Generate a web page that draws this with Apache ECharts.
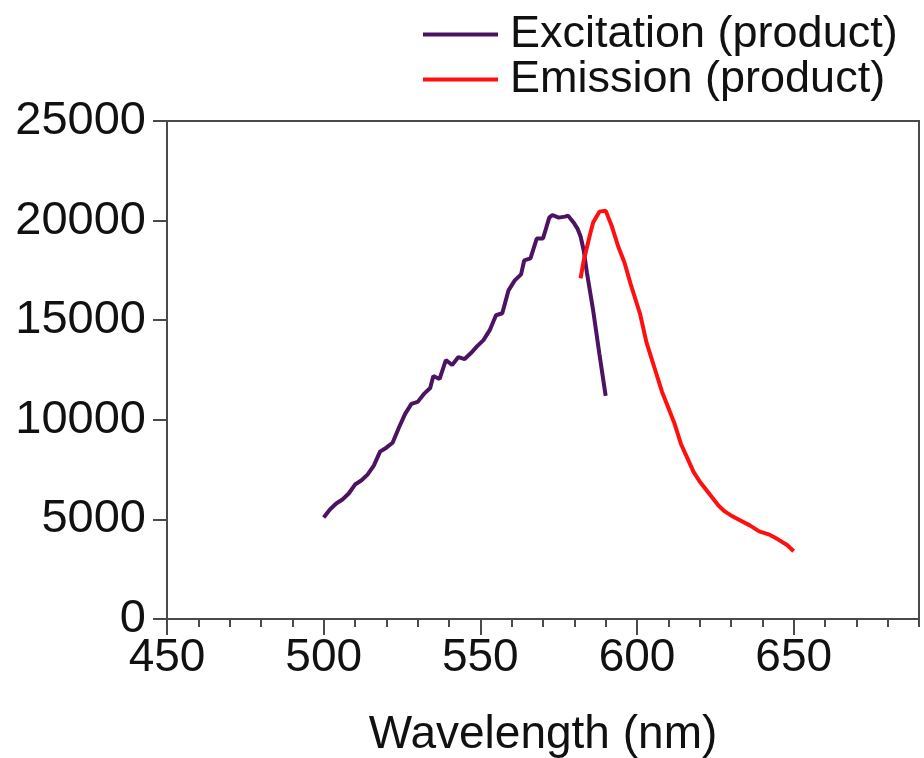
<!DOCTYPE html>
<html>
<head>
<meta charset="utf-8">
<script src="https://cdn.jsdelivr.net/npm/echarts@6/dist/echarts.min.js"></script>
<style>
html,body{margin:0;padding:0;background:#fff;}
#c{width:924px;height:758px;}
</style>
</head>
<body>
<div id="c"></div>
<script>
// Data
const seriesNames = ['Excitation (product)', 'Emission (product)'];
const exWl  = [500,502,504,506,508,510,512,514,516,518,520,522,524,526,528,530,532,534,535,537,539,541,543,545,547,549,551,553,555,557,559,561,563,564,566,568,570,572,573,575,577,578,580,581,582,583,584,586,588,590];
const exVal = [5100,5500,5800,6000,6300,6750,6950,7250,7700,8400,8600,8850,9600,10300,10800,10900,11300,11600,12200,12050,13000,12750,13150,13050,13350,13700,14000,14500,15250,15350,16500,17000,17300,18000,18100,19100,19100,20150,20280,20150,20200,20250,19850,19600,19200,18500,17400,15500,13300,11200];
const emWl  = [582,583,585,586,588,590,592,594,596,598,600,601,603,604,606,608,610,612,614,616,618,620,622,624,626,628,630,633,636,639,642,645,648,650];
const emVal = [17100,18000,19300,19900,20450,20500,19700,18700,17900,16800,15800,15300,13900,13400,12400,11400,10600,9800,8800,8100,7400,6900,6500,6100,5700,5400,5200,4950,4700,4400,4250,4000,3700,3400];
const xMin = 450, xMax = 690, xMajor = 50, xMinor = 10, xLabelMax = 650;
const yMin = 0, yMax = 25000, yStep = 5000;

const FONT = '"Liberation Sans", Arial, sans-serif';
const AX = '#4a4a4a';
const pairs = (xs, ys) => xs.map((x, i) => [x, ys[i]]);

const chart = echarts.init(document.getElementById('c'), null, {renderer: 'canvas'});
chart.setOption({
  animation: false,
  backgroundColor: '#fff',
  textStyle: {fontFamily: FONT},
  legend: {
    orient: 'vertical',
    left: 423, top: 12, padding: 0,
    itemGap: 0,
    icon: 'rect',
    itemWidth: 75, itemHeight: 4,
    textStyle: {fontSize: 45, color: '#111', fontFamily: FONT, lineHeight: 42, padding: [0, 0, 0, 7]},
    data: seriesNames
  },
  grid: [
    {left: 167, right: 5, top: 121, bottom: 139, containLabel: false, outerBoundsMode: 'none',
     show: true, borderColor: AX, borderWidth: 2, backgroundColor: 'transparent'},
    {left: 167, width: (xLabelMax - xMin) / (xMax - xMin) * (924 - 167 - 5), top: 121, bottom: 139,
     containLabel: false, outerBoundsMode: 'none'}
  ],
  xAxis: [
    {
      gridIndex: 0, type: 'value', min: xMin, max: xMax, interval: xMinor,
      name: 'Wavelength (nm)', nameLocation: 'middle', nameGap: 93,
      nameTextStyle: {fontSize: 46, color: '#111', fontFamily: FONT},
      axisLine: {show: true, onZero: false, lineStyle: {color: AX, width: 2}},
      axisTick: {show: true, inside: false, length: 8, lineStyle: {color: AX, width: 2}},
      axisLabel: {show: false},
      splitLine: {show: false}
    },
    {
      gridIndex: 1, type: 'value', min: xMin, max: xLabelMax, interval: xMajor,
      axisLine: {show: true, onZero: false, lineStyle: {color: AX, width: 2}},
      axisTick: {show: true, inside: false, length: 16, lineStyle: {color: AX, width: 2}},
      axisLabel: {show: true, fontSize: 46, color: '#111', margin: 16, fontFamily: FONT,
                  formatter: v => String(v)},
      splitLine: {show: false}
    }
  ],
  yAxis: [
    {
      gridIndex: 0, type: 'value', min: yMin, max: yMax, interval: yStep,
      axisLine: {show: true, onZero: false, lineStyle: {color: AX, width: 2}},
      axisTick: {show: true, inside: false, length: 14, lineStyle: {color: AX, width: 2}},
      axisLabel: {show: true, fontSize: 47, color: '#111', margin: 21, fontFamily: FONT,
                  formatter: v => String(v)},
      splitLine: {show: false}
    },
    {
      gridIndex: 1, type: 'value', min: yMin, max: yMax, show: false
    }
  ],
  series: [
    {
      name: seriesNames[0], type: 'line', xAxisIndex: 0, yAxisIndex: 0,
      data: pairs(exWl, exVal), showSymbol: false, symbol: 'none',
      color: '#4b1361', lineStyle: {color: '#4b1361', width: 4}
    },
    {
      name: seriesNames[1], type: 'line', xAxisIndex: 0, yAxisIndex: 0,
      data: pairs(emWl, emVal), showSymbol: false, symbol: 'none',
      color: '#ff1010', lineStyle: {color: '#ff1010', width: 4}
    }
  ]
});
</script>
</body>
</html>
